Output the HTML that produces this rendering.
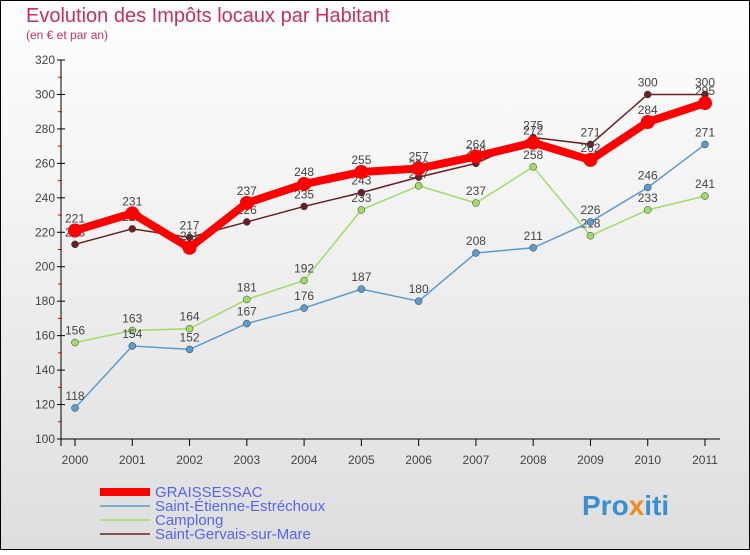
<!DOCTYPE html>
<html><head><meta charset="utf-8"><style>
html,body{margin:0;padding:0}
body{width:750px;height:550px;overflow:hidden;font-family:"Liberation Sans",sans-serif}
</style></head><body>
<svg id="chart" width="750" height="550" xmlns="http://www.w3.org/2000/svg">
<defs><linearGradient id="bg" x1="0" y1="0" x2="0" y2="1"><stop offset="0" stop-color="#ffffff"/><stop offset="1" stop-color="#dedede"/></linearGradient></defs>
<rect x="0.5" y="0.5" width="749" height="549" fill="url(#bg)" stroke="#000" stroke-width="1"/>
<text x="26" y="22" font-size="20" fill="#c8305a">Evolution des Impôts locaux par Habitant</text>
<text x="26" y="39" font-size="12" fill="#c8305a">(en € et par an)</text>
<g id="axes"></g>
<g id="series"></g>
<g id="legend"></g>
<text x="582" y="515" font-size="28" font-weight="bold" fill="#3a8fd0">Pro<tspan fill="#f08a20">x</tspan>iti</text>
</svg>
<script>
const years=[2000,2001,2002,2003,2004,2005,2006,2007,2008,2009,2010,2011];
const yTicks=[100,120,140,160,180,200,220,240,260,280,300,320];
const graissessac=[221,231,211,237,248,255,257,264,272,262,284,295];
const saintEtienne=[118,154,152,167,176,187,180,208,211,226,246,271];
const camplong=[156,163,164,181,192,233,247,237,258,218,233,241];
const saintGervais=[213,222,217,226,235,243,252,260,275,271,300,300];
const NS="http://www.w3.org/2000/svg";
const X=i=>75+i*(630/11);
const Y=v=>439-(v-100)*(379/220);
function mk(t,a,p){const e=document.createElementNS(NS,t);for(const k in a)e.setAttribute(k,a[k]);p.appendChild(e);return e;}
const ax=document.getElementById('axes');
let l=mk('line',{x1:61,y1:60,x2:61,y2:446,stroke:'#000'},ax);


l=mk('line',{x1:61,y1:439,x2:720,y2:439,stroke:'#000'},ax);


yTicks.forEach((v,i)=>{
  const t=mk('line',{x1:57,y1:Y(v),x2:65,y2:Y(v),stroke:'#000'},ax);
  
  
  if(i<yTicks.length-1){const m=mk('line',{x1:58,y1:Y(v+10),x2:62,y2:Y(v+10),stroke:'#d00'},ax);
  
  }
  const tx=mk('text',{x:55,y:Y(v)+4,'font-size':12,'text-anchor':'end',fill:'#444'},ax);
  
  
  tx.textContent=v;
});
years.forEach((y,i)=>{
  const t=mk('line',{x1:X(i),y1:439,x2:X(i),y2:446,stroke:'#000'},ax);
  
  
  const tx=mk('text',{x:X(i),y:464,'font-size':12,'text-anchor':'middle',fill:'#444'},ax);
  
  
  tx.textContent=y;
});
const sg=document.getElementById('series');
const defs=[
 {n:'saint-gervais',d:saintGervais,c:'#6b1f24',w:1.5,r:3.5,lab:'Saint-Gervais-sur-Mare'},
 {n:'camplong',d:camplong,c:'#9fdc6a',w:1.5,r:3.5,lab:'Camplong'},
 {n:'saint-etienne',d:saintEtienne,c:'#5b9bd0',w:1.5,r:3.5,lab:'Saint-Étienne-Estréchoux'},
 {n:'graissessac',d:graissessac,c:'#ff0000',w:8,r:7,lab:'GRAISSESSAC'}];
defs.forEach(s=>{
  const g=mk('g',{},sg);
  
  
  const p=mk('polyline',{points:s.d.map((v,i)=>X(i)+','+Y(v)).join(' '),fill:'none',stroke:s.c,'stroke-width':s.w,'stroke-linejoin':'round'},g);
  
  
  s.d.forEach((v,i)=>{
    const c=mk('circle',{cx:X(i),cy:Y(v),r:s.r,fill:s.c,stroke:s.w>2?'none':'#333','stroke-width':0.5},g);
    
    
    const t=mk('text',{x:X(i),y:Y(v)-8,'font-size':12,'text-anchor':'middle',fill:'#444'},g);
    
    
    t.textContent=v;
  });
});
const lg=document.getElementById('legend');
[defs[3],defs[2],defs[1],defs[0]].forEach((s,i)=>{
  const y=492+i*14;
  const g=mk('g',{},lg);
  
  
  const ln=mk('line',{x1:100,y1:y,x2:150,y2:y,stroke:s.c,'stroke-width':s.w},g);
  
  
  const t=mk('text',{x:155,y:y+5,'font-size':15,fill:'#5566ee'},g);
  
  
  t.textContent=s.lab;
});
</script>
</body></html>
